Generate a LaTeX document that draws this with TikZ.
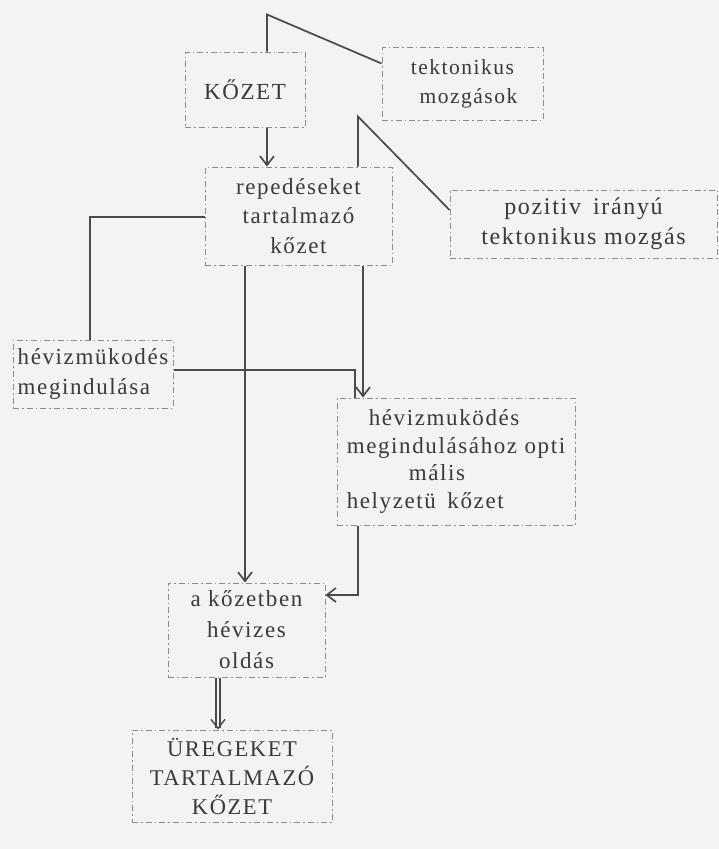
\documentclass[tikz,border=0pt]{standalone}
\usepackage{fontspec}
\setmainfont{Liberation Serif}[LetterSpace=7]
\usetikzlibrary{arrows.meta,calc,positioning}
\definecolor{ink}{HTML}{3A3A3A}
\definecolor{wire}{HTML}{4A4A4A}
\definecolor{paper}{HTML}{F3F3F1}
\definecolor{frame}{HTML}{8C8C8C}

\begin{document}
\begin{tikzpicture}[x=1pt,y=-1pt,>={Straight Barb[length=9pt,width=14pt]},
 box/.style={draw=frame,line width=1pt,dash pattern=on 6pt off 3pt on 1.5pt off 3pt,
  inner sep=3pt,text=ink,align=center,font=\fontsize{23}{29.5}\selectfont},
 link/.style={draw=wire,line width=1.7pt}]
\fill[paper] (0,0) rectangle (719,849);
\useasboundingbox (0,0) rectangle (719,849);
% boxes
\node[box,minimum width=120pt,minimum height=75pt,font=\fontsize{23}{29}\selectfont]
 (kozet) at (245,89.5) {KŐZET};
\node[box,minimum width=161pt,minimum height=73pt,font=\fontsize{21.5}{29}\selectfont]
 (tekt) at (462.5,83.5) {tektonikus\\ \hspace*{12pt}mozgások};
\node[box,minimum width=187pt,minimum height=98pt] (reped) at (298.5,216)
 {repedéseket\\tartalmazó\\kőzet};
\node[box,minimum width=267pt,minimum height=68pt,font=\fontsize{24}{30}\selectfont]
 (pozitiv) at (583.5,224) {pozitiv\enspace irányú\\tektonikus mozgás};
\node[box,minimum width=160pt,minimum height=68pt,align=left] (hevm) at (93,374)
 {hévizmükodés\\megindulása};
\node[box,minimum width=238pt,minimum height=127pt,align=left,
 font=\fontsize{23}{27.5}\selectfont] (opt) at (456,461.5)
 {\hspace*{22pt}hévizmuködés\\megindulásához opti\\\hspace*{62pt}mális\\helyzetü\enspace kőzet};
\node[box,minimum width=157pt,minimum height=94pt,font=\fontsize{23}{31}\selectfont]
 (oldas) at (246.5,630) {a kőzetben\\hévizes\\oldás};
\node[box,minimum width=200pt,minimum height=92pt,font=\fontsize{22.5}{29}\selectfont]
 (ureg) at (232,776) {ÜREGEKET\\TARTALMAZÓ\\KŐZET};
% connectors
\draw[link] ([xshift=22pt]kozet.north) -- ++(0,-37) -- ([yshift=20pt]tekt.west);
\draw[link,->] ([xshift=22pt]kozet.south) -- ([xshift=22pt]kozet.south |- reped.north);
\draw[link] ([xshift=59.5pt]reped.north) -- ++(0,-50) -- ([yshift=14pt]pozitiv.west);
\draw[link] ([yshift=-1pt]reped.west) -| ([xshift=-3pt]hevm.north);
\draw[link] ([yshift=4pt]hevm.east) -| ([xshift=-101pt]opt.north);
\draw[link,->] ([xshift=64.5pt]reped.south) -- ([xshift=64.5pt]reped.south |- opt.north);
\draw[link,->] ([xshift=-53.5pt]reped.south) -- ([xshift=-53.5pt]reped.south |- oldas.north);
\draw[link,->] ([xshift=-98pt]opt.south) |- ([yshift=35pt]oldas.east);
\draw[link,->,double=paper,double distance=2.5pt,line width=1.4pt]
 ([xshift=-28.5pt]oldas.south) -- ([xshift=-28.5pt]oldas.south |- ureg.north);
\end{tikzpicture}
\end{document}
